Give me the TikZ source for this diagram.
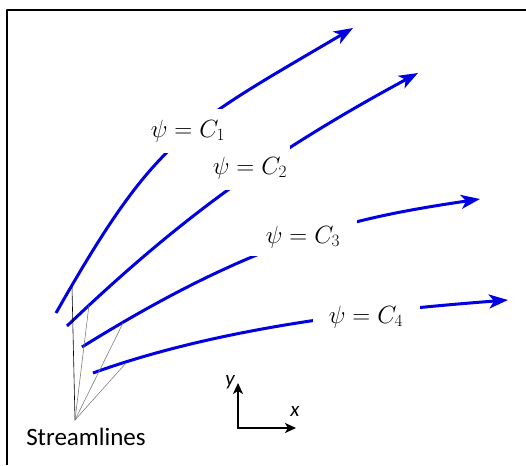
\documentclass[tikz,border=0pt]{standalone}
\usepackage{fontspec}
\setsansfont{Carlito}
\usepackage{tikz}
\usetikzlibrary{arrows.meta,calc}
\definecolor{flowblue}{RGB}{0,0,225}

\begin{document}
\begin{tikzpicture}[
		x=1pt,
		y=-1pt,
		line cap=round,
		line join=round,
		stream/.style={
			draw=flowblue,
			line width=3pt,
			line cap=butt,
			-{Stealth[length=19pt,width=14pt,inset=5pt]}
		},
		psilabel/.style={
			fill=white,
			inner sep=0pt,
			font=\fontsize{25}{29}\selectfont
		},
		leader/.style={
			draw=gray,
			line width=0.6pt
		},
		axis/.style={
			draw=black,
			line width=2.2pt,
			-{Stealth[length=11pt,width=10pt,inset=3pt]}
		}
		]
		
		\useasboundingbox (0,0) rectangle (526,465);
		
		% frame
		\draw[line width=1.8pt,line cap=butt] (7,465) -- (7,10) -- (526,10);
		
		% streamlines
		\draw[stream] (56,313) .. controls (156,137) and (183,128) .. (353,28);
		\draw[stream] (67,326) .. controls (177,221) and (268,154) .. (418,73);
		\draw[stream] (82,347) .. controls (262,235) and (360,217) .. (480,199);
		\draw[stream] (93,373) .. controls (223,326) and (378,310) .. (508,300);
		
		% labels on the lines
		\node[psilabel,minimum width=80pt,minimum height=44pt] (c1) at (188,131) {$\psi = C_1$};
		\node[psilabel,minimum width=80pt,minimum height=44pt] (c2) at (250,168) {$\psi = C_2$};
		\node[psilabel,minimum width=108pt,minimum height=38pt] (c3) at (303,237) {$\psi = C_3$};
		\node[psilabel,minimum width=107pt,minimum height=36pt] (c4) at (366,317) {$\psi = C_4$};
		
		% pointer lines
		\coordinate (apex) at (75,420);
		\coordinate (s1) at (72,287);
		\coordinate (s2) at (89,305);
		\coordinate (s3) at (123,323);
		\coordinate (s4) at (126,363);
		\draw[line width=0.6pt] (apex) -- (s1);
		\draw[leader] (apex) -- (s2);
		\draw[leader] (apex) -- (s3);
		\draw[leader] (apex) -- (s4);
		
		\node[font=\sffamily\fontsize{25}{30}\selectfont] (sl) at (86,437) {Streamlines};
		
		% axes
		\coordinate (O) at (238,428);
		\coordinate (ytip) at (238,383);
		\coordinate (xtip) at (296,428);
		\draw[axis] (O) -- (ytip);
		\draw[axis] (O) -- (xtip);
		\node[font=\sffamily\itshape\fontsize{21}{25}\selectfont] (ylab) at (230,382) {y};
		\node[font=\sffamily\itshape\fontsize{21}{25}\selectfont] (xlab) at (295,411) {x};
	\end{tikzpicture}
\end{document}
